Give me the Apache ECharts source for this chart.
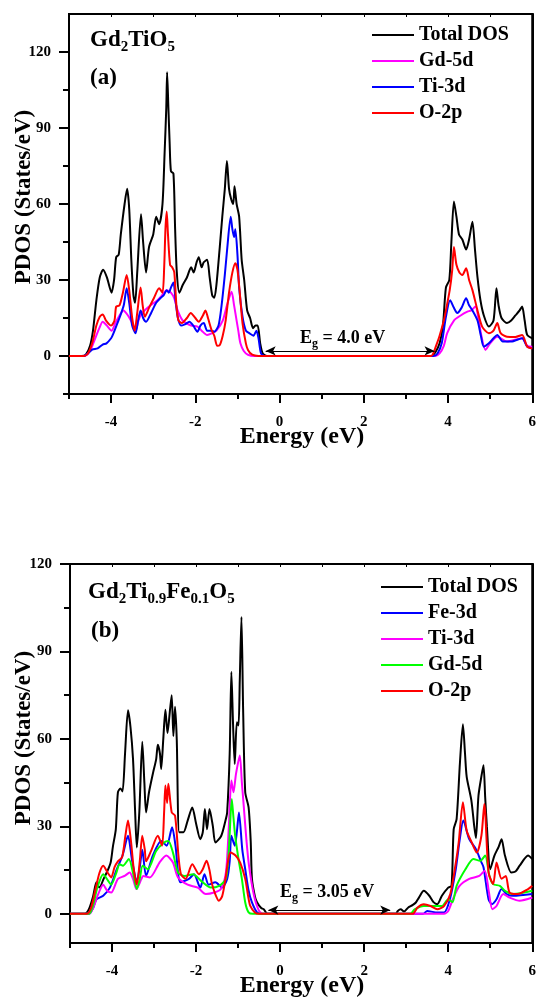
<!DOCTYPE html>
<html>
<head>
<meta charset="utf-8">
<script src="https://cdn.jsdelivr.net/npm/echarts@6/dist/echarts.min.js"></script>
<style>
html,body{margin:0;padding:0;background:#fff;}
#c{width:539px;height:998px;}
</style>
</head>
<body>
<div id="c"></div>
<script>
// ---------- Panel (a): Gd2TiO5  [energy (eV), PDOS] ----------
const aTotal = [[-5,0],[-4.7,0],[-4.6,0.5],[-4.5,4],[-4.43,10],[-4.35,22],[-4.27,31],[-4.19,34],[-4.1,31],[-3.99,25],[-3.93,30],[-3.88,39],[-3.82,40],[-3.77,48],[-3.68,60],[-3.62,66],[-3.57,58],[-3.52,38],[-3.47,24],[-3.43,21],[-3.38,33],[-3.29,56],[-3.24,45],[-3.17,33],[-3.1,43],[-3.0,48],[-2.93,55],[-2.86,52],[-2.78,60],[-2.73,80],[-2.69,98],[-2.67,112],[-2.64,98],[-2.61,84],[-2.58,73],[-2.52,72],[-2.48,50],[-2.44,33],[-2.38,25],[-2.3,28],[-2.2,31],[-2.1,35],[-2.04,33],[-1.97,37],[-1.92,39],[-1.85,35],[-1.8,37],[-1.72,38],[-1.66,31],[-1.6,24],[-1.55,23],[-1.5,28],[-1.42,43],[-1.36,55],[-1.3,66],[-1.25,77],[-1.2,66],[-1.15,62],[-1.1,60],[-1.07,67],[-1.02,60],[-0.96,55],[-0.9,38],[-0.84,30],[-0.77,18],[-0.7,15],[-0.63,11],[-0.57,12],[-0.52,12],[-0.46,5],[-0.4,1],[-0.3,0],[3.6,0],[3.7,1.5],[3.8,5],[3.88,12],[3.95,27],[4.03,30],[4.08,45],[4.14,61],[4.2,55],[4.26,48],[4.34,46],[4.43,42],[4.5,46],[4.58,53],[4.64,42],[4.7,31],[4.77,22],[4.85,16],[4.97,11.6],[5.08,14],[5.15,26.7],[5.2,20],[5.27,15],[5.4,13],[5.5,14],[5.6,16],[5.7,18],[5.76,19.5],[5.82,14],[5.88,8.3],[6.0,7]];
const aGd5d = [[-5,0],[-4.65,0],[-4.5,2],[-4.4,6],[-4.28,11],[-4.2,13.5],[-4.1,12],[-3.99,10],[-3.9,13],[-3.8,16],[-3.71,18],[-3.6,16],[-3.5,13],[-3.42,10],[-3.35,14],[-3.28,16.6],[-3.1,19.5],[-2.9,22],[-2.82,23.4],[-2.68,26],[-2.58,25],[-2.5,22.7],[-2.42,18],[-2.3,14],[-2.1,12],[-1.95,11.6],[-1.85,10],[-1.72,8.3],[-1.6,9],[-1.5,10],[-1.35,14],[-1.25,20],[-1.14,25.4],[-1.08,20],[-1.05,17],[-0.98,10],[-0.93,5],[-0.85,2],[-0.75,0.5],[-0.6,0],[3.7,0],[3.8,1],[3.9,4],[3.98,9],[4.14,14],[4.3,16],[4.46,17.5],[4.55,18],[4.65,19.5],[4.73,14],[4.78,9],[4.89,2.4],[5.0,5],[5.17,7.6],[5.4,5.7],[5.76,7],[5.88,4],[6.0,3.7]];
const aTi3d = [[-5,0],[-4.65,0],[-4.55,1],[-4.45,2.5],[-4.32,3],[-4.2,4.5],[-4.11,5],[-4.0,7],[-3.96,8.3],[-3.85,13],[-3.78,16],[-3.7,20],[-3.63,26.7],[-3.57,21],[-3.5,12],[-3.42,9],[-3.36,14],[-3.3,18],[-3.24,15],[-3.17,13.5],[-3.05,17],[-2.93,21],[-2.82,23],[-2.75,24],[-2.68,26],[-2.63,25],[-2.58,27],[-2.52,29],[-2.47,22],[-2.42,15.5],[-2.34,12],[-2.25,12.5],[-2.14,13.5],[-2.05,12],[-1.95,9.6],[-1.88,12],[-1.8,13],[-1.72,10],[-1.62,10],[-1.55,9.6],[-1.45,12],[-1.38,19.5],[-1.3,32],[-1.24,43],[-1.16,55],[-1.12,50],[-1.08,47],[-1.05,50],[-1.0,40],[-0.96,27],[-0.88,15.5],[-0.8,10],[-0.72,9],[-0.62,8],[-0.55,10],[-0.5,7],[-0.44,1],[-0.35,0],[3.65,0],[3.75,1],[3.85,5],[3.95,15.5],[4.05,22],[4.14,19],[4.22,17],[4.32,19],[4.43,22.8],[4.5,20],[4.58,18],[4.7,14],[4.78,8],[4.85,3.7],[4.97,5],[5.08,7],[5.17,8.3],[5.3,5.7],[5.5,5.7],[5.76,7],[5.88,3.7],[6.0,3]];
const aO2p = [[-5,0],[-4.65,0],[-4.55,1],[-4.45,5],[-4.35,12],[-4.27,15.5],[-4.2,16.4],[-4.12,14],[-4.0,12],[-3.92,14],[-3.88,19.5],[-3.8,20],[-3.72,25],[-3.63,32],[-3.57,26],[-3.5,15],[-3.44,10],[-3.38,17],[-3.3,27],[-3.25,20],[-3.2,15.5],[-3.1,19],[-2.98,23],[-2.86,26.7],[-2.78,25],[-2.74,35],[-2.71,50],[-2.68,57],[-2.65,48],[-2.6,36],[-2.55,35],[-2.5,33],[-2.45,20],[-2.4,14],[-2.32,13],[-2.2,15],[-2.11,17],[-2.0,15],[-1.92,13.5],[-1.82,16],[-1.76,18],[-1.7,15],[-1.62,10.5],[-1.55,8],[-1.48,4],[-1.42,4.3],[-1.35,8],[-1.28,14],[-1.2,25],[-1.12,33],[-1.05,36.6],[-1.0,34],[-0.95,26],[-0.88,13],[-0.8,5],[-0.75,2.4],[-0.65,0.5],[-0.5,0],[3.6,0],[3.65,1],[3.71,3.7],[3.8,8],[3.9,14],[3.95,18],[4.04,26],[4.1,34],[4.14,43],[4.2,36],[4.27,33],[4.34,32],[4.43,34.6],[4.5,30],[4.58,26],[4.7,18],[4.81,11.6],[4.97,9],[5.08,10],[5.17,13],[5.25,9],[5.4,7.6],[5.6,7.5],[5.76,8.3],[5.88,3.7],[6.0,3]];

// ---------- Panel (b): Gd2Ti0.9Fe0.1O5 ----------
const bTotal = [[-5,0],[-4.65,0],[-4.55,1.6],[-4.45,6],[-4.37,10.8],[-4.3,9],[-4.2,12],[-4.1,15],[-4.03,17.8],[-3.98,23],[-3.91,29],[-3.86,41.7],[-3.8,43],[-3.75,42],[-3.69,55],[-3.62,69.8],[-3.56,64],[-3.5,53],[-3.45,35],[-3.41,22.8],[-3.35,35],[-3.28,59],[-3.23,45],[-3.19,34.8],[-3.12,41.7],[-3.02,48.6],[-2.95,53],[-2.91,58],[-2.86,55],[-2.83,49.7],[-2.78,60],[-2.73,70],[-2.68,62],[-2.62,70],[-2.58,75],[-2.54,61],[-2.5,71],[-2.46,60],[-2.4,28],[-2.3,28],[-2.2,32],[-2.09,36.5],[-2.0,31],[-1.9,25.6],[-1.84,28],[-1.79,36],[-1.74,29],[-1.68,36],[-1.6,30],[-1.54,24.5],[-1.4,26.8],[-1.3,32],[-1.26,34.8],[-1.2,55],[-1.16,83],[-1.12,65],[-1.08,51.4],[-1.03,65.7],[-0.99,64.6],[-0.96,80],[-0.92,101.8],[-0.88,70],[-0.83,41.7],[-0.75,36.5],[-0.7,25],[-0.67,12],[-0.6,6],[-0.55,4],[-0.45,2],[-0.39,1.6],[-0.3,0],[2.75,0],[2.8,1],[2.87,1.6],[2.95,0.8],[3.05,2.2],[3.15,3],[3.23,3.9],[3.3,5.5],[3.42,7.9],[3.55,6.2],[3.65,4],[3.74,3.3],[3.85,6.2],[4.0,9],[4.08,9.6],[4.13,29],[4.2,32.5],[4.28,52],[4.35,65],[4.4,55],[4.44,47],[4.55,39],[4.62,30],[4.66,26],[4.72,40.5],[4.8,48],[4.84,51],[4.88,40],[4.92,30],[5.0,15.3],[5.1,20],[5.2,23],[5.27,25.6],[5.35,20],[5.5,14.2],[5.6,14.5],[5.7,16.5],[5.9,20],[6.0,18.8]];
const bFe3d = [[-5,0],[-4.55,0],[-4.45,2],[-4.37,5],[-4.21,6.2],[-4.05,9],[-3.9,14.8],[-3.75,20],[-3.62,26.8],[-3.52,18],[-3.41,11.3],[-3.34,16],[-3.28,22],[-3.19,13],[-3.03,20],[-2.83,25],[-2.7,23.4],[-2.57,29.7],[-2.49,23.4],[-2.37,10.8],[-2.17,12],[-2.05,13.6],[-1.9,9],[-1.8,13.6],[-1.7,10],[-1.54,10.8],[-1.38,9],[-1.26,12],[-1.2,18],[-1.16,26.8],[-1.08,23.4],[-1.03,28],[-0.98,34.8],[-0.9,22],[-0.83,15.3],[-0.75,8],[-0.67,3.9],[-0.55,0.5],[-0.45,0],[3.4,0],[3.5,1],[3.7,0.5],[3.9,0.5],[4.04,5],[4.18,15.3],[4.27,25],[4.36,32],[4.5,25.6],[4.66,22.2],[4.78,18],[4.84,16],[4.96,5],[5.04,3.3],[5.15,5],[5.27,8.5],[5.39,6.8],[5.55,6.2],[6.0,6.8]];
const bTi3d = [[-5,0],[-4.55,0],[-4.45,2],[-4.35,6],[-4.21,10],[-4.12,8],[-4.02,7.3],[-3.86,12],[-3.7,13],[-3.58,14.2],[-3.5,12],[-3.42,8.5],[-3.3,12],[-3.26,13],[-3.1,12.5],[-2.87,17.6],[-2.71,20],[-2.55,17.6],[-2.43,12.5],[-2.2,10],[-1.96,9],[-1.77,6.8],[-1.57,7.3],[-1.41,8.5],[-1.29,14.2],[-1.22,30],[-1.16,45.7],[-1.11,41.7],[-1.05,48],[-0.96,54.3],[-0.91,45],[-0.86,36],[-0.8,25],[-0.74,16.5],[-0.62,6.2],[-0.5,1],[-0.4,0],[3.9,0],[4.0,1],[4.11,5],[4.27,9.6],[4.5,12],[4.74,13],[4.87,14.8],[4.97,7.3],[5.05,1.6],[5.15,2.7],[5.31,6.8],[5.46,5.6],[5.7,4.5],[6.0,5.6]];
const bGd5d = [[-5,0],[-4.55,0],[-4.45,3],[-4.35,9],[-4.21,13.6],[-4.1,11.5],[-4.02,10],[-3.9,14],[-3.82,17],[-3.74,16.5],[-3.6,18.8],[-3.5,14],[-3.41,8.5],[-3.34,12],[-3.27,16.5],[-3.15,15.3],[-2.95,21.6],[-2.76,24.5],[-2.66,25],[-2.55,21],[-2.43,14.2],[-2.27,13],[-2.07,13.6],[-1.88,11.3],[-1.65,9],[-1.45,9.6],[-1.29,12],[-1.22,22],[-1.15,39.4],[-1.11,33],[-1.07,26.8],[-0.99,18.8],[-0.91,12],[-0.83,3.9],[-0.75,0.5],[-0.65,0],[3.1,0],[3.2,1.5],[3.42,2.7],[3.65,2.7],[3.85,2.7],[4.0,5],[4.1,4],[4.2,9.6],[4.41,15.3],[4.6,18.8],[4.76,18.2],[4.88,20],[4.98,13],[5.07,10.2],[5.23,9.6],[5.35,7.9],[5.55,6.8],[6.0,7.9]];
const bO2p = [[-5,0],[-4.6,0],[-4.5,2],[-4.4,8],[-4.3,14],[-4.21,16.5],[-4.1,14],[-4.02,12.5],[-3.94,16],[-3.86,18],[-3.76,19.4],[-3.68,27],[-3.62,32],[-3.55,25],[-3.48,15],[-3.41,10],[-3.34,18],[-3.28,26.8],[-3.22,22],[-3.19,18],[-3.07,21.6],[-2.91,26.8],[-2.81,23.4],[-2.76,35],[-2.73,44],[-2.69,38],[-2.66,44.6],[-2.58,34.8],[-2.5,33.7],[-2.42,20],[-2.36,13.6],[-2.25,12],[-2.09,17],[-1.93,13.6],[-1.85,15],[-1.75,18.2],[-1.68,15],[-1.63,10.8],[-1.55,7],[-1.46,4.5],[-1.38,6],[-1.3,12],[-1.24,18],[-1.18,21],[-1.06,20],[-0.95,17.6],[-0.83,12],[-0.76,6],[-0.71,2.7],[-0.6,0.5],[-0.5,0],[3.15,0],[3.27,2.2],[3.42,3.3],[3.58,2.7],[3.74,1.6],[3.9,2.7],[4.05,6.8],[4.17,16.5],[4.25,24.5],[4.35,38.3],[4.44,28.5],[4.56,24.5],[4.68,21],[4.79,26.8],[4.86,37.7],[4.96,14.2],[5.07,10.2],[5.15,17.6],[5.27,12],[5.37,13],[5.46,7.3],[5.66,6.8],[5.9,8.5],[6.0,9.6]];

// ---------- ticks, labels, annotations ----------
const xMajor = [-4,-2,0,2,4,6];
const xMinor = [-5,-3,-1,1,3,5];
const xAll = [-5,-4,-3,-2,-1,0,1,2,3,4,5,6];
const yMajor = [0,30,60,90,120];
const yMinorA = [-15,15,45,75,105];
const yMinorB = [15,45,75,105];
const gapA = [-0.33, 3.68], gapYA = 2;   // E_g arrow, panel (a)
const gapB = [-0.28, 2.62], gapYB = 1.3; // E_g arrow, panel (b)
const legendA = ['Total DOS','Gd-5d','Ti-3d','O-2p'];
const legendB = ['Total DOS','Fe-3d','Ti-3d','Gd-5d','O-2p'];

const FF = '"Liberation Serif","Times New Roman",serif';
const C = {black:'#000000', mag:'#ff00ff', blue:'#0000ff', red:'#ff0000', green:'#00ff00'};

function xAxesFor(g){
  return [
    {type:'value', gridIndex:g, min:-5, max:6, position:'bottom',
     axisLine:{show:true, onZero:false, lineStyle:{color:'#000', width:2}},
     axisTick:{show:true, customValues:xMajor, length:9, lineStyle:{color:'#000', width:2}},
     axisLabel:{show:true, customValues:xMajor, margin:21, color:'#000', fontFamily:FF, fontWeight:'bold', fontSize:15},
     splitLine:{show:false}},
    {type:'value', gridIndex:g, min:-5, max:6, position:'bottom',
     axisLine:{show:false, onZero:false},
     axisTick:{show:true, customValues:xMinor, length:5, lineStyle:{color:'#000', width:2}},
     axisLabel:{show:false}, splitLine:{show:false}},
    {type:'value', gridIndex:g, min:-5, max:6, position:'top',
     axisLine:{show:true, onZero:false, lineStyle:{color:'#000', width:2}},
     axisTick:{show:true, inside:true, customValues:xAll, length:3, lineStyle:{color:'#000', width:1}},
     axisLabel:{show:false}, splitLine:{show:false}}
  ];
}
function yAxesFor(g, mn, mx, minor){
  return [
    {type:'value', gridIndex:g, min:mn, max:mx, position:'left',
     axisLine:{show:true, onZero:false, lineStyle:{color:'#000', width:2}},
     axisTick:{show:true, customValues:yMajor, length:10, lineStyle:{color:'#000', width:2}},
     axisLabel:{show:true, customValues:yMajor, margin:18, color:'#000', fontFamily:FF, fontWeight:'bold', fontSize:15},
     splitLine:{show:false}},
    {type:'value', gridIndex:g, min:mn, max:mx, position:'left',
     axisLine:{show:false, onZero:false},
     axisTick:{show:true, customValues:minor, length:6, lineStyle:{color:'#000', width:2}},
     axisLabel:{show:false}, splitLine:{show:false}},
    {type:'value', gridIndex:g, min:mn, max:mx, position:'right',
     axisLine:{show:true, onZero:false, lineStyle:{color:'#000', width:2}},
     axisTick:{show:false}, axisLabel:{show:false}, splitLine:{show:false}}
  ];
}
function line(name, data, color, xi, yi, extra){
  return Object.assign({type:'line', name:name, data:data, xAxisIndex:xi, yAxisIndex:yi,
    showSymbol:false, symbol:'none', smooth:0.25, clip:true,
    lineStyle:{color:color, width:2}, itemStyle:{color:color}, z:3}, extra||{});
}
function gapLine(g, y){
  return {silent:true, symbol:['arrow','arrow'], symbolSize:[7,10], label:{show:false},
    lineStyle:{color:'#000', width:1, type:'solid'},
    data:[[{coord:[g[0], y]},{coord:[g[1], y]}]]};
}
const legText = {color:'#000', fontFamily:FF, fontWeight:'bold', fontSize:20, lineHeight:26};
const rBig = {fontFamily:FF, fontWeight:'bold', fontSize:23, lineHeight:26, fill:'#000', verticalAlign:'top'};
const rSub = {fontFamily:FF, fontWeight:'bold', fontSize:15, lineHeight:26, fill:'#000', verticalAlign:'top', padding:[11,0,0,0]};
const rE = {fontFamily:FF, fontWeight:'bold', fontSize:18, lineHeight:20, fill:'#000', verticalAlign:'top'};
const rEs = {fontFamily:FF, fontWeight:'bold', fontSize:12, lineHeight:20, fill:'#000', verticalAlign:'top', padding:[9,0,0,0]};

function txt(x, y, text, size, rot, align){
  return {type:'text', x:x, y:y, rotation:rot||0, z:10,
    style:{text:text, fill:'#000', font:'bold '+size+'px '+FF, align:align||'center', verticalAlign:'middle'}};
}
function rich(x, y, text, richMap){
  return {type:'text', x:x, y:y, z:10,
    style:{text:text, align:'left', verticalAlign:'top', rich:richMap}};
}

const option = {
  animation:false,
  backgroundColor:'#ffffff',
  grid:[
    {left:69, top:14, width:466, height:380, show:true, borderColor:'#000', borderWidth:2, containLabel:false},
    {left:70, top:564, width:466, height:379, show:true, borderColor:'#000', borderWidth:2, containLabel:false}
  ],
  xAxis: xAxesFor(0).concat(xAxesFor(1)),
  yAxis: yAxesFor(0,-15,135,yMinorA).concat(yAxesFor(1,-10,120,yMinorB)),
  legend:[
    {orient:'vertical', left:372, top:22, padding:0, itemGap:0, itemWidth:42, itemHeight:2, icon:'rect',
     textStyle:legText, selectedMode:false,
     data:[{name:'Total DOS', itemStyle:{color:C.black}},{name:'Gd-5d', itemStyle:{color:C.mag}},{name:'Ti-3d', itemStyle:{color:C.blue}},{name:'O-2p', itemStyle:{color:C.red}}]},
    {orient:'vertical', left:381, top:574, padding:0, itemGap:0, itemWidth:42, itemHeight:2, icon:'rect',
     textStyle:legText, selectedMode:false,
     data:[{name:'Total DOS', itemStyle:{color:C.black}},{name:'Fe-3d', itemStyle:{color:C.blue}},{name:'Ti-3d', itemStyle:{color:C.mag}},{name:'Gd-5d', itemStyle:{color:C.green}},{name:'O-2p', itemStyle:{color:C.red}}]}
  ],
  series:[
    line(legendA[0], aTotal, C.black, 0, 0, {markLine:gapLine(gapA, gapYA)}),
    line(legendA[1], aGd5d, C.mag, 0, 0),
    line(legendA[2], aTi3d, C.blue, 0, 0),
    line(legendA[3], aO2p, C.red, 0, 0),
    line(legendB[0], bTotal, C.black, 3, 3, {markLine:gapLine(gapB, gapYB)}),
    line(legendB[1], bFe3d, C.blue, 3, 3),
    line(legendB[2], bTi3d, C.mag, 3, 3),
    line(legendB[3], bGd5d, C.green, 3, 3),
    line(legendB[4], bO2p, C.red, 3, 3)
  ],
  graphic:[
    rich(90, 29, '{m|Gd}{s|2}{m|TiO}{s|5}', {m:rBig, s:rSub}),
    txt(90, 78, '(a)', 23, 0, 'left'),
    rich(88, 581, '{m|Gd}{s|2}{m|Ti}{s|0.9}{m|Fe}{s|0.1}{m|O}{s|5}', {m:rBig, s:rSub}),
    txt(91, 631, '(b)', 23, 0, 'left'),
    txt(24, 197, 'PDOS (States/eV)', 23, Math.PI/2),
    txt(24, 738, 'PDOS (States/eV)', 23, Math.PI/2),
    txt(302, 437, 'Energy (eV)', 24, 0),
    txt(302, 986, 'Energy (eV)', 24, 0),
    rich(300, 329, '{e|E}{s|g}{e| = 4.0 eV}', {e:rE, s:rEs}),
    rich(280, 883, '{e|E}{s|g}{e| = 3.05 eV}', {e:rE, s:rEs})
  ]
};
const chart = echarts.init(document.getElementById('c'), null, {renderer:'canvas'});
chart.setOption(option);
</script>
</body>
</html>
